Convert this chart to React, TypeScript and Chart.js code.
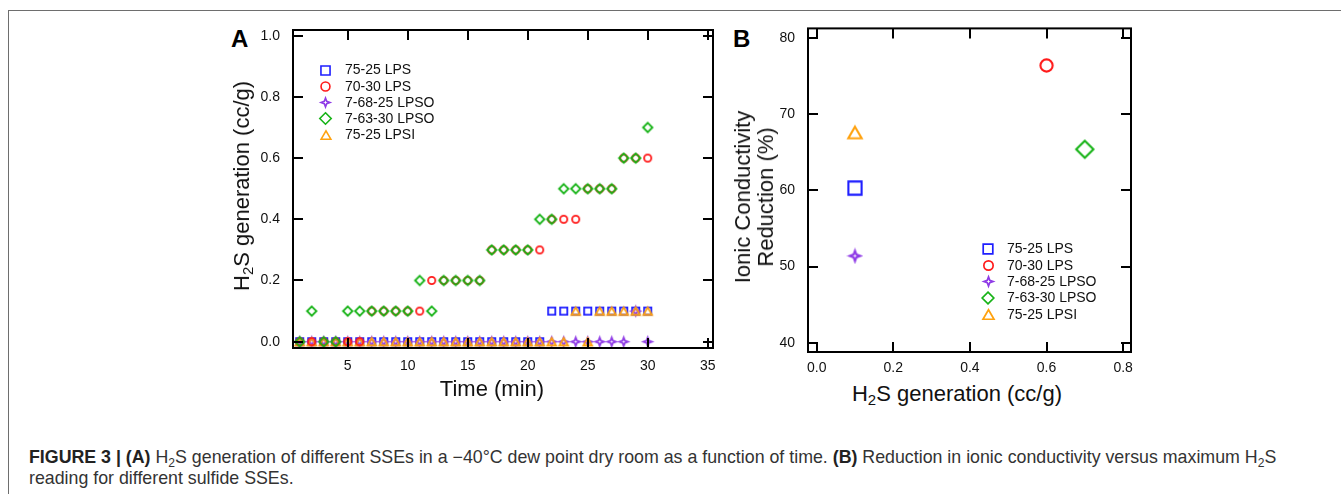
import React, { useEffect, useRef } from 'react';
import { Chart, registerables } from 'chart.js';

Chart.register(...registerables);

// ---------------- data ----------------
const seriesNames = ['75-25 LPS', '70-30 LPS', '7-68-25 LPSO', '7-63-30 LPSO', '75-25 LPSI'];
const seriesColors = ['#1f1fff', '#ff1a1a', '#8f3be6', '#17b317', '#ffa20f'];
const seriesShapes = ['square', 'circle', 'star', 'diamond', 'triangle'];
// drawing order (0 = on top)
const seriesOrder = [4, 1, 3, 0, 2];

const timeMin = [1, 2, 3, 4, 5, 6, 7, 8, 9, 10, 11, 12, 13, 14, 15, 16, 17, 18, 19, 20, 21, 22, 23, 24, 25, 26, 27, 28, 29, 30];
const h2sLPS7525 = [0, 0, 0, 0, 0, 0, 0, 0, 0, 0, 0, 0, 0, 0, 0, 0, 0, 0, 0, 0, 0, 0.1, 0.1, 0.1, 0.1, 0.1, 0.1, 0.1, 0.1, 0.1];
const h2sLPS7030 = [0, 0, 0, 0, 0, 0, 0.1, 0.1, 0.1, 0.1, 0.1, 0.2, 0.2, 0.2, 0.2, 0.2, 0.3, 0.3, 0.3, 0.3, 0.3, 0.4, 0.4, 0.4, 0.5, 0.5, 0.5, 0.6, 0.6, 0.6];
const h2sLPSO76825 = [0, 0, 0, 0, 0, 0, 0, 0, 0, 0, 0, 0, 0, 0, 0, 0, 0, 0, 0, 0, 0, 0, 0, 0, 0, 0, 0, 0, 0.1, 0];
const h2sLPSO76330 = [0, 0.1, 0, 0, 0.1, 0.1, 0.1, 0.1, 0.1, 0.1, 0.2, 0.1, 0.2, 0.2, 0.2, 0.2, 0.3, 0.3, 0.3, 0.3, 0.4, 0.4, 0.5, 0.5, 0.5, 0.5, 0.5, 0.6, 0.6, 0.7];
const h2sLPSI7525 = [0, 0, 0, 0, 0, 0, 0, 0, 0, 0, 0, 0, 0, 0, 0, 0, 0, 0, 0, 0, 0, 0, 0, 0.1, 0, 0.1, 0.1, 0.1, 0.1, 0.1];
const h2sSeries = [h2sLPS7525, h2sLPS7030, h2sLPSO76825, h2sLPSO76330, h2sLPSI7525];

const maxH2S = [0.1, 0.6, 0.1, 0.7, 0.1];
const conductivityReduction = [60.3, 76.4, 51.4, 65.4, 67.6];

const xTicksA = [5, 10, 15, 20, 25, 30, 35];
const yTicksA = [0, 0.2, 0.4, 0.6, 0.8, 1.0];
const xTicksB = [0, 0.2, 0.4, 0.6, 0.8];
const yTicksB = [40, 50, 60, 70, 80];

// ---------------- styling ----------------
const FONT = '"Liberation Sans", Arial, Helvetica, sans-serif';

type Shape = 'square' | 'circle' | 'star' | 'diamond' | 'triangle';

function makeMarker(shape: Shape, color: string, outer: number, lw: number): HTMLCanvasElement {
  const size = Math.ceil(outer + 4);
  const c = document.createElement('canvas');
  c.width = size;
  c.height = size;
  const g = c.getContext('2d')!;
  g.strokeStyle = color;
  g.lineWidth = lw;
  g.lineJoin = 'miter';
  const m = size / 2;
  const h = (outer - lw) / 2;
  g.beginPath();
  if (shape === 'square') {
    g.rect(m - h, m - h, 2 * h, 2 * h);
  } else if (shape === 'circle') {
    g.arc(m, m, h, 0, Math.PI * 2);
  } else if (shape === 'diamond') {
    g.moveTo(m, m - h);
    g.lineTo(m + h, m);
    g.lineTo(m, m + h);
    g.lineTo(m - h, m);
    g.closePath();
  } else if (shape === 'triangle') {
    const th = h * Math.sqrt(3);
    g.moveTo(m, m - th / 2);
    g.lineTo(m + h, m + th / 2);
    g.lineTo(m - h, m + th / 2);
    g.closePath();
  } else {
    const r = h * 0.38;
    for (let k = 0; k < 8; k++) {
      const ang = -Math.PI / 2 + (k * Math.PI) / 4;
      const rr = k % 2 === 0 ? h : r;
      const px = m + rr * Math.cos(ang);
      const py = m + rr * Math.sin(ang);
      if (k === 0) g.moveTo(px, py);
      else g.lineTo(px, py);
    }
    g.closePath();
  }
  g.stroke();
  return c;
}

const sizesPlotA: Record<Shape, number> = { square: 9, circle: 9, star: 10.2, diamond: 11.2, triangle: 10.5 };
const sizesLegendA: Record<Shape, number> = { square: 10.7, circle: 10.5, star: 10.5, diamond: 13, triangle: 11.3 };
const sizesPlotB: Record<Shape, number> = { square: 15.3, circle: 14.3, star: 12.5, diamond: 19.3, triangle: 15.5 };
const sizesLegendB: Record<Shape, number> = { square: 11.3, circle: 11, star: 11, diamond: 13.3, triangle: 12.7 };

function markers(sizes: Record<Shape, number>, lw: number) {
  return seriesShapes.map((s, i) => makeMarker(s as Shape, seriesColors[i], sizes[s as Shape], lw));
}

const framePlugin = {
  id: 'frameTicks',
  afterDraw(chart: any) {
    const { ctx, chartArea: a, scales } = chart;
    const L = 10;
    ctx.save();
    ctx.strokeStyle = '#000';
    ctx.lineWidth = 2;
    ctx.beginPath();
    scales.x.ticks.forEach((t: any) => {
      const p = Math.round(scales.x.getPixelForValue(t.value));
      ctx.moveTo(p, a.bottom);
      ctx.lineTo(p, a.bottom - L);
      ctx.moveTo(p, a.top);
      ctx.lineTo(p, a.top + L);
    });
    scales.y.ticks.forEach((t: any) => {
      const p = Math.round(scales.y.getPixelForValue(t.value));
      ctx.moveTo(a.left, p);
      ctx.lineTo(a.left + L, p);
      ctx.moveTo(a.right, p);
      ctx.lineTo(a.right - L, p);
    });
    ctx.stroke();
    ctx.strokeRect(a.left, a.top, a.right - a.left, a.bottom - a.top);
    ctx.restore();
  },
};

function legendPlugin(imgs: HTMLCanvasElement[], markerX: number, textX: number, top: number, step: number) {
  return {
    id: 'innerLegend',
    afterDraw(chart: any) {
      const ctx = chart.ctx;
      ctx.save();
      ctx.font = `14px ${FONT}`;
      ctx.fillStyle = '#111';
      ctx.textBaseline = 'middle';
      ctx.textAlign = 'left';
      seriesNames.forEach((name, i) => {
        const y = top + i * step;
        const img = imgs[i];
        ctx.drawImage(img, Math.round(markerX - img.width / 2), Math.round(y - img.height / 2));
        ctx.fillText(name, textX, y + 0.5);
      });
      ctx.restore();
    },
  };
}

function linearAxis(min: number, max: number, ticks: number[], fmt: (v: number) => string, size: number, horizontal: boolean, pad: number) {
  return {
    type: 'linear',
    min,
    max,
    grid: { display: false },
    border: { display: false },
    ticks: {
      font: { family: FONT, size: 14 },
      color: '#111',
      padding: pad,
      maxRotation: 0,
      autoSkip: false,
      callback: (v: any) => fmt(Number(v)),
    },
    afterBuildTicks: (s: any) => {
      s.ticks = ticks.map((v) => ({ value: v }));
    },
    afterFit: (s: any) => {
      if (horizontal) s.height = size;
      else s.width = size;
    },
  };
}

function buildA() {
  const imgs = markers(sizesPlotA, 1.8);
  const legImgs = markers(sizesLegendA, 1.6);
  return {
    type: 'scatter',
    data: {
      datasets: seriesNames.map((name, i) => ({
        label: name,
        data: timeMin.map((t, k) => ({ x: t, y: h2sSeries[i][k] })),
        pointStyle: imgs[i],
        pointRadius: 5,
        pointHoverRadius: 5,
        order: seriesOrder[i],
      })),
    },
    options: {
      responsive: false,
      devicePixelRatio: 1,
      animation: false,
      events: [],
      layout: { padding: { top: 15, right: 17, left: 0, bottom: 0 } },
      plugins: { legend: { display: false }, tooltip: { enabled: false }, title: { display: false } },
      scales: {
        x: { ...linearAxis(0.44, 35.44, xTicksA, (v) => String(v), 32, true, 2), position: 'bottom' },
        y: { ...linearAxis(-0.0206, 1.0186, yTicksA, (v) => v.toFixed(1), 43, false, 5), position: 'left' },
      },
    },
    plugins: [framePlugin, legendPlugin(legImgs, 75.5, 95, 55, 16.2)],
  };
}

function buildB() {
  const imgs = markers(sizesPlotB, 2.1);
  const legImgs = markers(sizesLegendB, 1.7);
  return {
    type: 'scatter',
    data: {
      datasets: seriesNames.map((name, i) => ({
        label: name,
        data: [{ x: maxH2S[i], y: conductivityReduction[i] }],
        pointStyle: imgs[i],
        pointRadius: 7,
        pointHoverRadius: 7,
        order: seriesOrder[i],
      })),
    },
    options: {
      responsive: false,
      devicePixelRatio: 1,
      animation: false,
      events: [],
      layout: { padding: { top: 12, right: 19, left: 0, bottom: 0 } },
      plugins: { legend: { display: false }, tooltip: { enabled: false }, title: { display: false } },
      scales: {
        x: { ...linearAxis(-0.0227, 0.8206, xTicksB, (v) => v.toFixed(1), 28, true, 0), position: 'bottom' },
        y: { ...linearAxis(38.78, 81.27, yTicksB, (v) => String(v), 33, false, 5), position: 'left' },
      },
    },
    plugins: [framePlugin, legendPlugin(legImgs, 213, 232, 234, 16.3)],
  };
}

function ChartCanvas({ left, top, width, height, build }: { left: number; top: number; width: number; height: number; build: () => any }) {
  const ref = useRef<HTMLCanvasElement>(null);
  useEffect(() => {
    const chart = new Chart(ref.current!, build());
    return () => chart.destroy();
  }, []);
  return (
    <canvas
      ref={ref}
      width={width}
      height={height}
      style={{ position: 'absolute', left, top, width, height }}
    />
  );
}

const subStyle: React.CSSProperties = { fontSize: '0.68em', verticalAlign: '-0.3em', lineHeight: 0 };

function Label({ x, y, rotate, children, size = 22, lh = 22, align = 'center' }: any) {
  return (
    <div
      style={{
        position: 'absolute',
        left: x,
        top: y,
        transform: `translate(-50%, -50%)${rotate ? ' rotate(-90deg)' : ''}`,
        whiteSpace: 'nowrap',
        fontSize: size,
        lineHeight: `${lh}px`,
        color: '#111',
        textAlign: align,
      }}
    >
      {children}
    </div>
  );
}

export default function App() {
  return (
    <div
      style={{
        position: 'absolute',
        left: 0,
        top: 0,
        width: 1341,
        height: 494,
        overflow: 'hidden',
        background: '#fff',
        fontFamily: FONT,
      }}
    >
      <div
        style={{
          position: 'absolute',
          left: 8,
          top: 10,
          width: 1333,
          height: 484,
          borderTop: '1px solid #6e6e6e',
          borderLeft: '1px solid #6e6e6e',
          boxSizing: 'border-box',
        }}
      />
      <ChartCanvas left={250} top={15} width={480} height={365} build={buildA} />
      <ChartCanvas left={775} top={15} width={375} height={365} build={buildB} />

      <div style={{ position: 'absolute', left: 231, top: 27, fontSize: 24, lineHeight: '24px', fontWeight: 'bold', color: '#000' }}>A</div>
      <div style={{ position: 'absolute', left: 733, top: 27, fontSize: 24, lineHeight: '24px', fontWeight: 'bold', color: '#000' }}>B</div>

      <Label x={242} y={186} rotate>
        H<sub style={subStyle}>2</sub>S generation (cc/g)
      </Label>
      <Label x={492} y={389}>Time (min)</Label>
      <Label x={957} y={394}>
        H<sub style={subStyle}>2</sub>S generation (cc/g)
      </Label>
      <Label x={754} y={197} rotate lh={23}>
        Ionic Conductivity
        <br />
        Reduction (%)
      </Label>

      <div
        style={{
          position: 'absolute',
          left: 29,
          top: 446.5,
          fontSize: 17.8,
          lineHeight: '21px',
          color: '#333',
          whiteSpace: 'nowrap',
        }}
      >
        <b style={{ color: '#222' }}>FIGURE 3 | (A)</b> H<sub style={subStyle}>2</sub>S generation of different SSEs in a −40°C dew point dry
        room as a function of time. <b style={{ color: '#222' }}>(B)</b> Reduction in ionic conductivity versus maximum H
        <sub style={subStyle}>2</sub>S
        <br />
        reading for different sulfide SSEs.
      </div>
    </div>
  );
}
